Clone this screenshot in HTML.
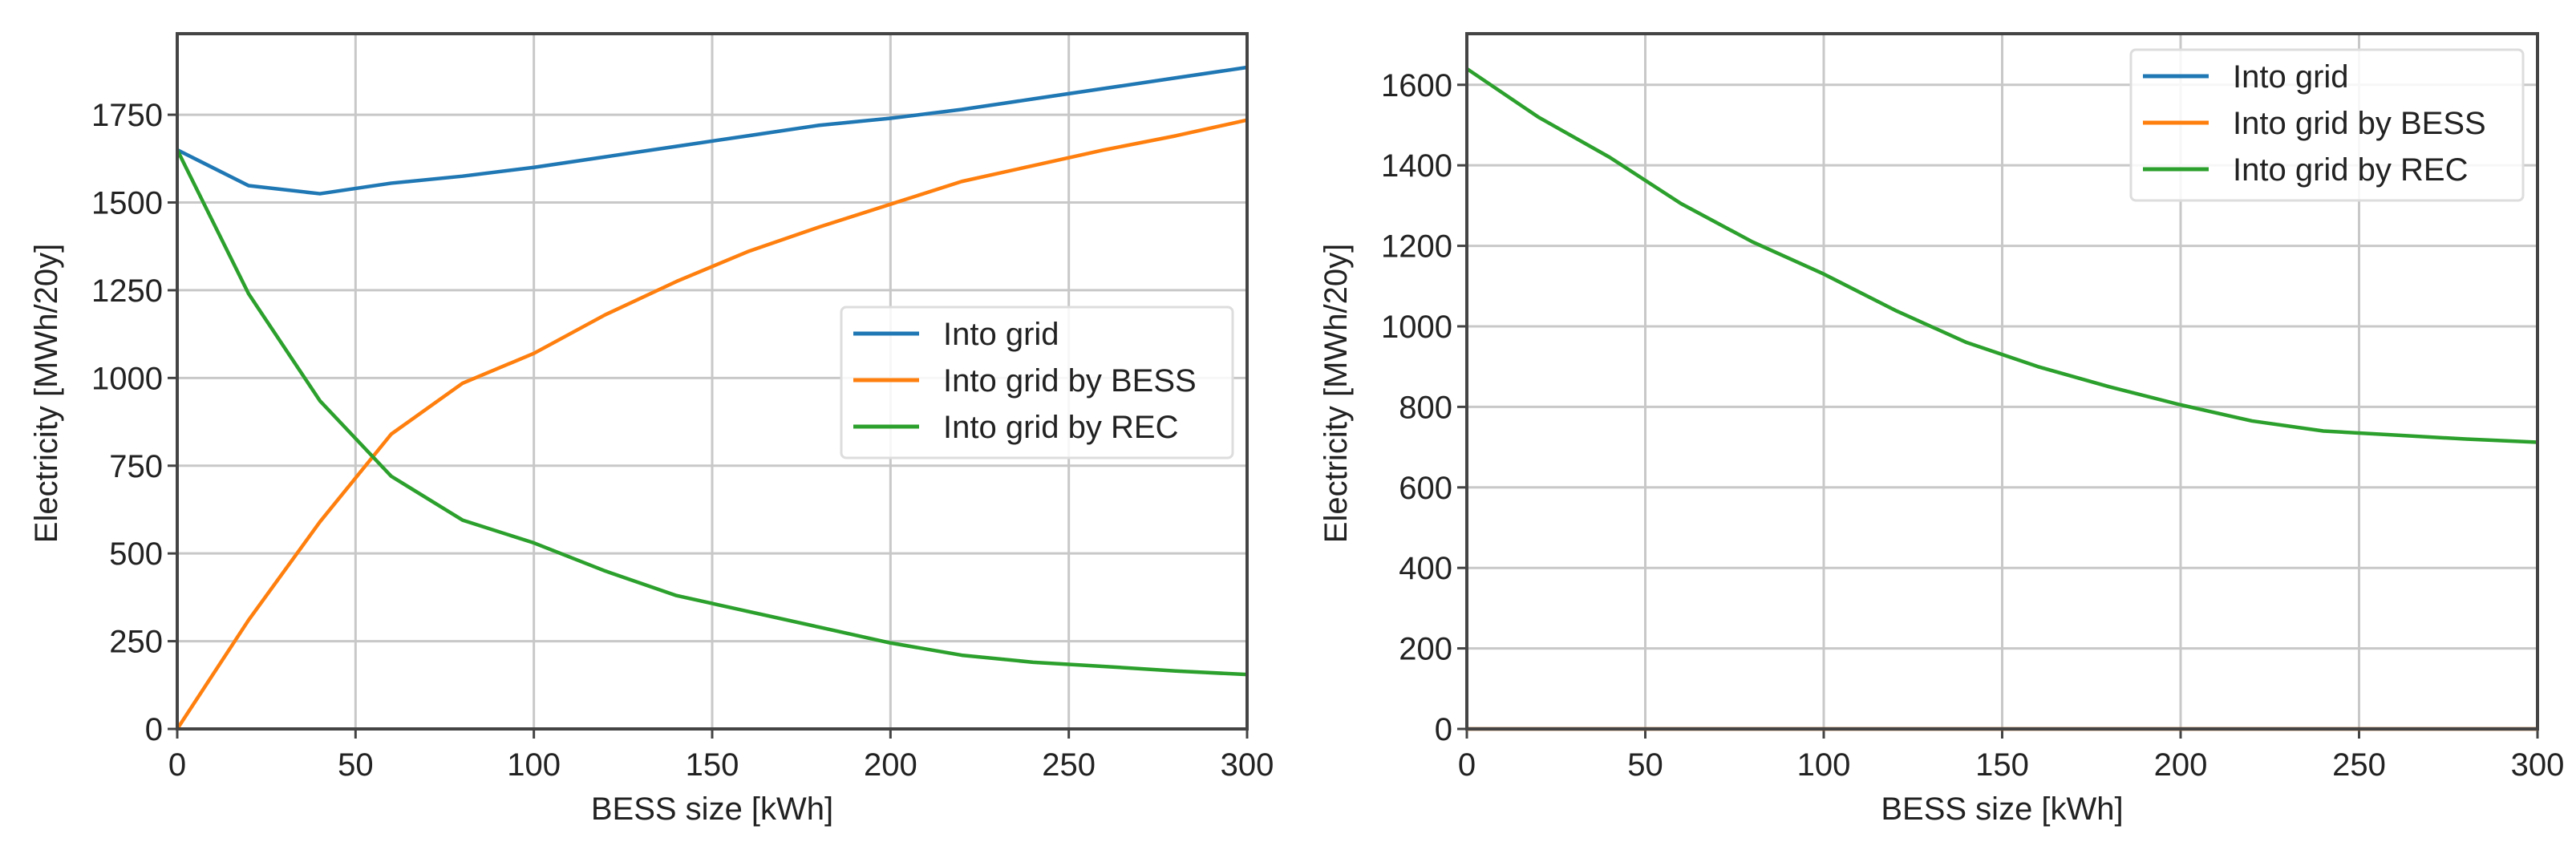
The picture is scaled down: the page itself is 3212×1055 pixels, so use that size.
<!DOCTYPE html>
<html><head><meta charset="utf-8"><style>
html,body{margin:0;padding:0;background:#fff;}
svg{display:block;font-family:"Liberation Sans",sans-serif;}
</style></head><body>
<svg id="fig" width="3212" height="1055" viewBox="0 0 3212 1055"></svg>
<script>
const xValues=[0,20,40,60,80,100,120,140,160,180,200,220,240,260,280,300];
const leftIntoGrid=[1650,1548,1525,1555,1575,1600,1630,1660,1690,1720,1740,1765,1795,1825,1855,1885];
const leftByBess=[0,310,590,840,985,1070,1180,1275,1360,1430,1495,1560,1605,1650,1690,1735];
const leftByRec=[1650,1240,935,720,595,530,450,380,335,290,245,210,190,178,165,155];
const rightIntoGrid=[0,0,0,0,0,0,0,0,0,0,0,0,0,0,0,0];
const rightByBess=[0,0,0,0,0,0,0,0,0,0,0,0,0,0,0,0];
const rightByRec=[1640,1520,1420,1305,1210,1130,1040,960,900,850,805,765,740,730,720,712];
const xTicks=[0,50,100,150,200,250,300];
const leftYTicks=[0,250,500,750,1000,1250,1500,1750];
const rightYTicks=[0,200,400,600,800,1000,1200,1400,1600];
const seriesNames=["Into grid","Into grid by BESS","Into grid by REC"];
const colors=["#1f77b4","#ff7f0e","#2ca02c"];
const NS="http://www.w3.org/2000/svg";
const svg=document.getElementById('fig');
function mk(tag,attrs,parent){const e=document.createElementNS(NS,tag);for(const k in attrs)e.setAttribute(k,attrs[k]);(parent||svg).appendChild(e);return e;}

function panel(id,L,R,T,B,yMax,yTicks,series,legend){
  const g=mk('g',{});
  
  
  const xs=v=>L+(v-0)/300*(R-L);
  const ys=v=>B-v/yMax*(B-T);
  xTicks.forEach(t=>{
    const l=mk('line',{x1:xs(t),x2:xs(t),y1:T,y2:B,stroke:'#c8c8c8','stroke-width':3},g);
    
    
    mk('line',{x1:xs(t),x2:xs(t),y1:B,y2:B+12,stroke:'#444','stroke-width':3},g);
    const tx=mk('text',{x:xs(t),y:B+58,'font-size':40,'text-anchor':'middle',fill:'#222'},g);
    tx.textContent=t;
    
    
  });
  yTicks.forEach(t=>{
    const l=mk('line',{x1:L,x2:R,y1:ys(t),y2:ys(t),stroke:'#c8c8c8','stroke-width':3},g);
    
    
    mk('line',{x1:L-12,x2:L,y1:ys(t),y2:ys(t),stroke:'#444','stroke-width':3},g);
    const tx=mk('text',{x:L-18,y:ys(t)+14,'font-size':40,'text-anchor':'end',fill:'#222'},g);
    tx.textContent=t;
    
    
  });
  series.forEach((s,i)=>{
    const p=mk('polyline',{points:xValues.map((x,j)=>xs(x)+','+ys(s[j])).join(' '),fill:'none',stroke:colors[i],'stroke-width':4.5,'stroke-linejoin':'round'},g);
    
    
  });
  const fr=mk('rect',{x:L,y:T,width:R-L,height:B-T,fill:'none',stroke:'#444','stroke-width':4},g);
  
  
  const xt=mk('text',{x:(L+R)/2,y:1022,'font-size':40,'text-anchor':'middle',fill:'#222'},g);
  xt.textContent='BESS size [kWh]';
  
  
  const cy=(T+B)/2+15;
  const yt=mk('text',{x:0,y:0,'font-size':40,'text-anchor':'middle',fill:'#222',transform:`translate(${L-150},${cy}) rotate(-90)`},g);
  yt.textContent='Electricity [MWh/20y]';
  
  
  const lg=mk('g',{},g);
  
  
  mk('rect',{x:legend.x,y:legend.y,width:legend.w,height:188,rx:6,fill:'rgba(255,255,255,0.85)',stroke:'#ddd','stroke-width':3},lg);
  seriesNames.forEach((n,i)=>{
    const ey=legend.y+33+i*58;
    const e=mk('g',{},lg);
    
    
    mk('line',{x1:legend.x+15,x2:legend.x+97,y1:ey,y2:ey,stroke:colors[i],'stroke-width':5},e);
    const t=mk('text',{x:legend.x+127,y:ey+14,'font-size':40,fill:'#222'},e);
    t.textContent=n;
  });
}
panel('left-chart',221,1555,42,909,1981,leftYTicks,[leftIntoGrid,leftByBess,leftByRec],{x:1049,y:383,w:488});
panel('right-chart',1829,3164,42,909,1727,rightYTicks,[rightIntoGrid,rightByBess,rightByRec],{x:2657,y:62,w:489});
</script>
</body></html>
